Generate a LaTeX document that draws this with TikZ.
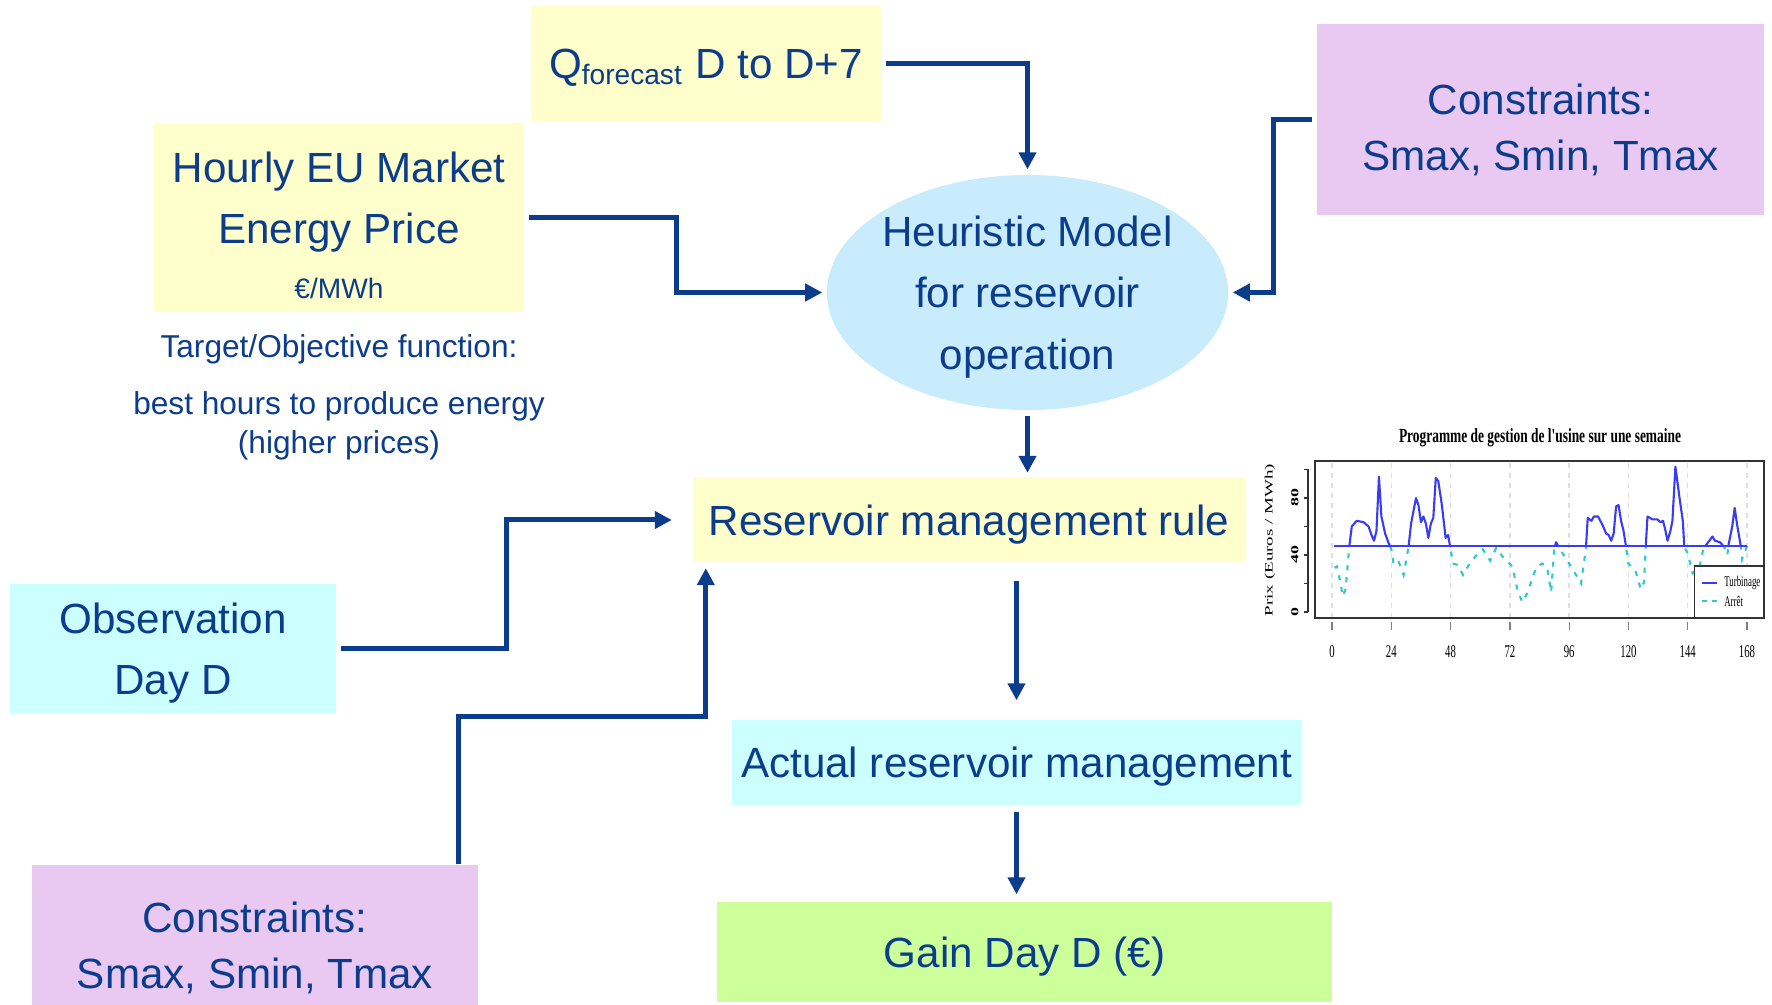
\documentclass[tikz,border=0pt]{standalone}
\usepackage{fontspec}
\setmainfont{Liberation Sans}
\newfontfamily\chartfont{Liberation Serif}
\usetikzlibrary{arrows.meta,positioning,shapes.geometric}

\definecolor{ink}{HTML}{0B3D8C}
\definecolor{paleyellow}{HTML}{FFFFCC}
\definecolor{palecyan}{HTML}{CCFFFF}
\definecolor{palemauve}{HTML}{E9C8F1}
\definecolor{palegreen}{HTML}{CCFF99}
\definecolor{skyfill}{HTML}{C9ECFC}
\definecolor{turbblue}{HTML}{3B3BF7}
\definecolor{arretcyan}{HTML}{30C8C8}

\newcommand{\squeeze}[1]{\scalebox{0.6}[1]{#1}}

\begin{document}
\begin{tikzpicture}[
  box/.style={rectangle,inner sep=0pt,align=center,text=ink,text depth=0pt,
              font=\fontsize{12}{17.3}\selectfont},
  model/.style={ellipse,fill=skyfill,inner ysep=0pt,inner xsep=-0.035cm,
                align=center,text=ink,text depth=0pt,
                font=\fontsize{12}{17.5}\selectfont},
  flow/.style={-{Triangle[width=0.17cm,length=0.17cm]},ink,line width=0.05cm},
  ticklbl/.style={font=\chartfont\fontsize{5.1}{6}\selectfont,inner sep=0pt},
]
  \useasboundingbox (0,0) rectangle (17.72,10.04);

  % Inputs (top)
  \node[box,fill=paleyellow,minimum width=3.5cm,minimum height=1.15cm]
    (qf) at (7.06,9.405) {Q\textsubscript{forecast} D to D+7};
  \node[box,fill=paleyellow,minimum width=3.7cm,minimum height=1.89cm]
    (hep) at (3.39,7.865) {\rule{0pt}{0.46cm}Hourly EU Market\\Energy Price\\[-1.7pt]{\fontsize{8}{10}\selectfont €/MWh}};
  \node[font=\fontsize{9}{11.1}\selectfont,text=ink,align=center,inner sep=0pt]
    (objtext) at (3.39,6.07) {Target/Objective function:\\[5.1pt]best hours to produce energy\\(higher prices)};
  \node[box,fill=palemauve,minimum width=4.47cm,minimum height=1.91cm,
        font=\fontsize{12}{16.2}\selectfont]
    (ctop) at (15.405,8.845) {\rule{0pt}{0.46cm}Constraints:\\Smax, Smin, Tmax};

  % Model and rule
  \node[model,minimum width=4.01cm,minimum height=2.35cm]
    (heur) at (10.275,7.115) {Heuristic Model\\for reservoir\\operation};
  \node[box,fill=paleyellow,minimum width=5.53cm,minimum height=0.85cm]
    (rule) at (9.69,4.84) {Reservoir management rule};

  % Day D inputs (left)
  \node[box,fill=palecyan,minimum width=3.26cm,minimum height=1.29cm]
    (obs) at (1.73,3.555) {Observation\\Day D};
  \node[box,fill=palemauve,minimum width=4.46cm,minimum height=1.6cm,font=\fontsize{12}{15.9}\selectfont]
    (cbot) at (2.55,0.59) {Constraints:\\Smax, Smin, Tmax};

  % Outputs
  \node[box,fill=palecyan,minimum width=5.69cm,minimum height=0.85cm]
    (actual) at (10.165,2.415) {Actual reservoir management};
  \node[box,fill=palegreen,minimum width=6.15cm,minimum height=1.0cm]
    (gain) at (10.245,0.52) {Gain Day D (€)};

  % Connectors
  \draw[flow] ([xshift=0.04cm]qf.east) -| ([yshift=0.05cm]heur.north);
  \draw[flow] ([xshift=0.04cm]hep.east) -- ++(1.48,0) |- ([xshift=-0.04cm]heur.west);
  \draw[flow] ([xshift=-0.04cm]ctop.west) -- ++(-0.39,0) |- ([xshift=0.04cm]heur.east);
  \draw[flow] ([yshift=-0.05cm]heur.south) -- ([yshift=0.04cm]heur.south |- rule.north);
  \draw[flow] ([xshift=0.04cm]obs.east) -- ++(1.66,0) |- ([xshift=-0.2cm]rule.west);
  \draw[flow] ([xshift=-0.2cm]cbot.north east) -- ++(0,1.48) -| ([xshift=0.14cm,yshift=-0.05cm]rule.south west);
  \draw[flow] ([yshift=-0.18cm]actual.north |- rule.south) -- ([yshift=0.19cm]actual.north);
  \draw[flow] ([yshift=-0.06cm]actual.south) -- ([yshift=0.07cm]actual.south |- gain.north);

  % Weekly price chart (hours vs Euros/MWh)
  \begin{scope}[shift={(13.32,3.92)},x=0.0247cm,y=0.01425cm]
    \foreach \h in {0,24,...,168}
      \draw[gray!25,line width=0.4pt,dash pattern=on 0.05cm off 0.05cm] (\h,-4.2) -- (\h,106);

    \path[save path=\pricepath] plot coordinates {
      (1,31) (2,32) (3,24) (4.4,11) (5.5,16) (7,46) (8,60) (10,64) (12.8,63)
      (14.8,60) (16,54) (17,50) (18,57) (19,95) (20,67) (21.5,55) (23,48)
      (24,44) (25,33) (27,35) (29,26) (30,36) (31,46) (32,62) (34,80) (35,75)
      (36,63) (37,67) (38,62) (39,52) (40,62) (41,66) (42,94) (43,92)
      (44.4,76) (46,52) (47,54) (48,44) (49,34) (51,33) (53,26) (55,32)
      (58,39) (61,44) (64,36) (66.5,45) (69,39) (73,32) (75,16) (77,7)
      (79,13) (82.6,31) (85,34) (87,32) (88.7,14) (90,45) (90.7,49) (92,45)
      (93.4,41) (96,34) (98.8,26) (100.8,20) (102.8,45) (103.5,66) (105,64)
      (106,67) (107.7,67) (109.5,61) (111,55) (112,54) (113,50) (114,55)
      (115,74) (116,75) (117,64) (118,57) (119,46) (120,34) (123,28)
      (125,16) (126.3,21) (127,46) (127.7,67) (129.7,65) (131.7,65) (133,63)
      (134,64) (135,57) (135.8,50) (137,57) (137.8,64) (139,102) (140.6,81)
      (142,64) (142.6,46) (144,41) (146,27) (148.8,32) (150.5,46) (151,46)
      (154,53) (155,50) (157,49) (158.6,46) (160,40) (160.6,48) (162,60)
      (163,73) (164,61) (165.3,48) (166,37) (167,42) (168,46)};

    % Turbinage above the threshold, Arret below
    \begin{scope}
      \clip (-5,46) rectangle (172,110);
      \draw[turbblue,line width=0.6pt,line join=round,use path=\pricepath];
    \end{scope}
    \draw[turbblue,line width=0.6pt] (1,46) -- (168,46);
    \begin{scope}
      \clip (-5,-10) rectangle (172,45.6);
      \draw[arretcyan,line width=0.6pt,dash pattern=on 0.05cm off 0.07cm,use path=\pricepath];
    \end{scope}

    % Frame and axes
    \draw[black!80,line width=0.35pt] (-6.9,-4.2) rectangle (174.9,106);
    \draw[black!80,line width=0.35pt] (-9.7,0) -- (-9.7,100);
    \foreach \v in {0,20,...,100}
      \draw[black!80,line width=0.35pt] (-9.7,\v) -- (-11.3,\v);
    \foreach \v in {0,40,80}
      \node[ticklbl,rotate=90] (ylbl\v) at (-15,\v) {\scalebox{1}[0.6]{\bfseries\v}};
    \foreach \h in {0,24,...,168} {
      \draw[gray,line width=0.35pt] (\h,-7) -- (\h,-12.6);
      \node[ticklbl] (xlbl\h) at (\h,-28) {\squeeze{\h}};
    }
    \node[font=\chartfont\fontsize{5.4}{6}\selectfont,rotate=90,inner sep=0pt]
      (ylabel) at (-25.1,50.5) {\scalebox{1}[0.6]{Prix (Euros / MWh)}};
    \node[font=\chartfont\bfseries\fontsize{5.7}{6}\selectfont,inner sep=0pt]
      (charttitle) at (84.2,122) {\scalebox{0.67}[1]{Programme de gestion de l'usine sur une semaine}};

    % Legend
    \draw[black!80,fill=white,line width=0.35pt] (146.6,-4.2) rectangle (174.9,32.3);
    \draw[turbblue,line width=0.6pt] (149.8,20.4) -- (155.9,20.4);
    \draw[arretcyan,line width=0.6pt,dash pattern=on 0.05cm off 0.05cm] (149.8,7.7) -- (155.9,7.7);
    \node[font=\chartfont\fontsize{4.2}{5}\selectfont,anchor=west,inner sep=0pt]
      (legturb) at (158.5,20.4) {\squeeze{Turbinage}};
    \node[font=\chartfont\fontsize{4.2}{5}\selectfont,anchor=west,inner sep=0pt]
      (legarret) at (158.5,7.7) {\squeeze{Arrêt}};
  \end{scope}
\end{tikzpicture}
\end{document}
